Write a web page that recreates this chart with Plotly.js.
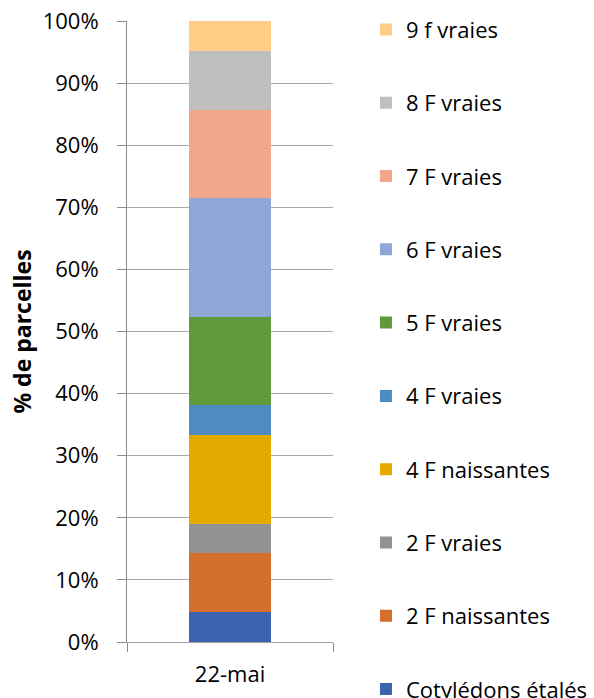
<!DOCTYPE html>
<html>
<head>
<meta charset="utf-8">
<script src="https://cdn.plot.ly/plotly-3.0.1.min.js"></script>
<style>html,body{margin:0;padding:0;background:#fff;}#chart{width:594px;height:698px;}</style>
</head>
<body>
<div id="chart"></div>
<script>
var categories = ["22-mai"];
var seriesNames = ["Cotylédons étalés", "2 F naissantes", "2 F vraies", "4 F naissantes", "4 F vraies", "5 F vraies", "6 F vraies", "7 F vraies", "8 F vraies", "9 f vraies"];
var seriesValues = [0.0476, 0.0952, 0.0476, 0.1429, 0.0476, 0.1429, 0.1905, 0.1429, 0.0952, 0.0476];
var seriesColors = ["#3C64AE", "#D46E2B", "#929292", "#E3AA00", "#4E8BC0", "#5F9A3D", "#8FA6D6", "#F1A78A", "#BFBFBF", "#FFCD85"];
var yTickVals = [0, 0.1, 0.2, 0.3, 0.4, 0.5, 0.6, 0.7, 0.8, 0.9, 1.0];

var FONT = "'Open Sans', sans-serif";
var traces = seriesNames.map(function (name, i) {
  return {
    type: "bar",
    name: name,
    x: categories,
    y: [seriesValues[i]],
    marker: { color: seriesColors[i], line: { width: 0 } },
    width: 0.4,
    legendgroup: "g" + i,
    legendrank: 100 - i,
    hoverinfo: "name+y"
  };
});

var layout = {
  width: 594,
  height: 698,
  margin: { l: 127, r: 261, t: 21, b: 56, pad: 0, autoexpand: false },
  barmode: "stack",
  paper_bgcolor: "#ffffff",
  plot_bgcolor: "#ffffff",
  font: { family: FONT, size: 22, color: "#000000" },
  showlegend: true,
  legend: {
    x: 1.16, xanchor: "left",
    y: 1.02, yanchor: "top",
    traceorder: "grouped",
    tracegroupgap: 41.7,
    font: { family: FONT, size: 22, color: "#000000" },
    bgcolor: "rgba(0,0,0,0)",
    maxheight: 1
  },
  xaxis: {
    type: "category",
    range: [-0.5, 0.5],
    showgrid: false,
    showline: true,
    linecolor: "#A0A0A0",
    linewidth: 1,
    ticks: "outside",
    tickson: "boundaries",
    ticklen: 9,
    tickcolor: "#8C8C8C",
    ticklabelstandoff: 13,
    tickfont: { family: FONT, size: 22, color: "#000000" },
    zeroline: false,
    fixedrange: true
  },
  yaxis: {
    range: [0, 1],
    tickvals: yTickVals,
    tickformat: ".0%",
    showgrid: true,
    gridcolor: "#A6A6A6",
    gridwidth: 1,
    showline: true,
    linecolor: "#8C8C8C",
    linewidth: 1,
    ticks: "outside",
    ticklen: 9,
    tickcolor: "#8C8C8C",
    ticklabelstandoff: 14,
    tickfont: { family: FONT, size: 22, color: "#000000" },
    zeroline: false,
    title: { text: "<b>% de parcelles</b>", font: { family: FONT, size: 23, color: "#000000" }, standoff: 4 },
    fixedrange: true
  }
};

Plotly.newPlot("chart", traces, layout, { displayModeBar: false, staticPlot: true });
</script>
</body>
</html>
